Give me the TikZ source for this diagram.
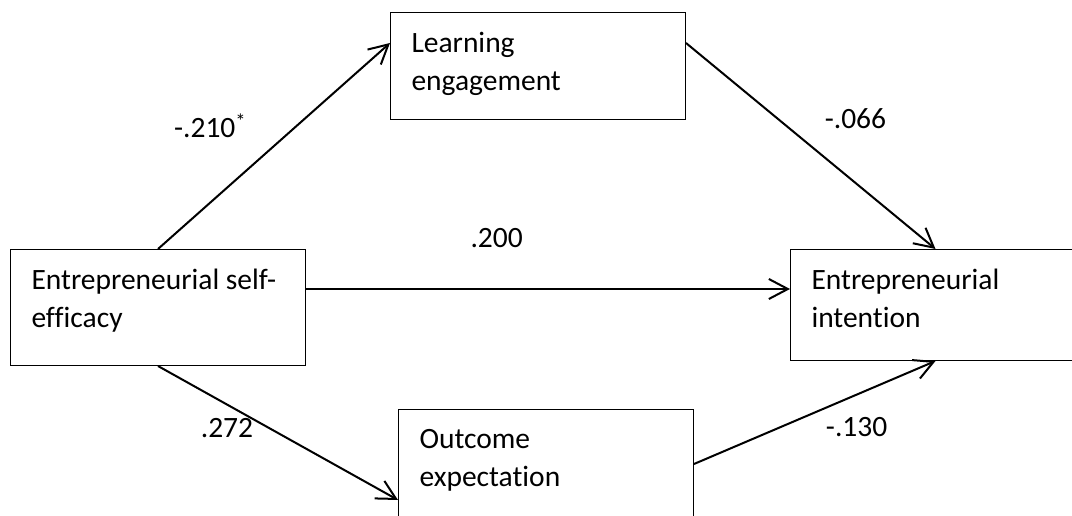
\documentclass[tikz,border=0pt]{standalone}
\usepackage{fontspec}
\setmainfont{Carlito}[Ligatures=NoCommon]
\usepackage{tikz}
\usetikzlibrary{arrows.meta,positioning}
\setlength{\parindent}{0pt}

\begin{document}
\begin{tikzpicture}[x=1pt,y=1pt,->,>={Straight Barb[length=19pt,width=20pt]},
  line width=2pt, font=\fontsize{29.5pt}{38pt}\selectfont,
  var/.style 2 args={draw,line width=1pt,anchor=north west,inner xsep=21pt,inner ysep=19.5pt,
    execute at begin node={\begin{minipage}[t][#2pt][t]{#1pt}},
    execute at end node={\end{minipage}}},
  coef/.style={inner sep=0pt}]
    \useasboundingbox (0,0) rectangle (1072,515);
    \clip (0,0) rectangle (1072,515);
    \node[var={253}{77}] (ese) at (10,266) {Entrepreneurial self-\\efficacy};
    \node[var={253}{68}] (le) [above right=237pt and 84pt of ese.north east, anchor=north west] {Learning\\engagement};
    \node[var={253}{71}] (oe) [below right=43pt and 92pt of ese.south east, anchor=north west] {Outcome\\expectation};
    \node[var={248}{72}] (ei) [below right=129pt and 104pt of le.south east, anchor=north west] {Entrepreneurial\\intention};
    \coordinate (direct) at ([yshift=-40pt]ese.north east);
    \path (ese.north) edge node[coef,pos=.6,left=50pt] (ab1) {-.210\textsuperscript{*}} ([yshift=-31pt]le.north west)
    ([yshift=-31pt]le.north east) edge node[coef,pos=.368,right=46pt] (bb1) {-.066} (ei.north)
    (direct) edge node[coef,pos=.394,above=40pt] (cc) {.200} (direct -| ei.west)
    (ese.south) edge node[coef,pos=.463,left=15pt] (ab2) {.272} ([yshift=-91pt]oe.north west)
    ([yshift=-55pt]oe.north east) edge node[coef,pos=.356,right=45pt] (bb2) {-.130} (ei.south);
\end{tikzpicture}
\end{document}
